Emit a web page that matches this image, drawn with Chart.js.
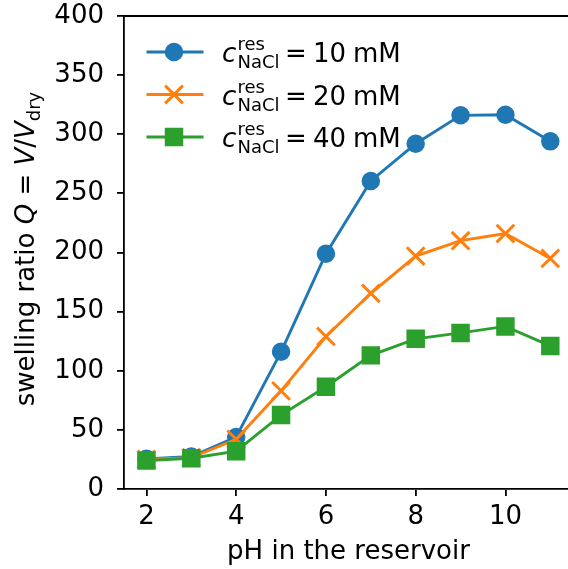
<!DOCTYPE html>
<html><head><meta charset="utf-8">
<script src="https://cdn.jsdelivr.net/npm/chart.js@4.4.0/dist/chart.umd.min.js"></script>
<style>
html,body{margin:0;padding:0;overflow:hidden;background:#fff;width:568px;height:569px}
#wrap{position:absolute;left:0;top:0;width:590px;height:569px}
</style>
</head><body><div id="wrap"><canvas id="c" width="590" height="569"></canvas></div>
<script>
// ---- data ----
const phValues = [2, 3, 4, 5, 6, 7, 8, 9, 10, 11];
const q10mM = [25.5, 27.5, 44, 116, 199, 260.5, 292, 316, 316.5, 294];
const q20mM = [25, 26.5, 42, 83, 129, 165.5, 197, 210, 216, 195];
const q40mM = [24, 26, 32, 62.5, 86.5, 113, 127, 132, 137.5, 121];
const concentrations = ['10', '20', '40'];
const xTicks = [2, 4, 6, 8, 10];
const yTicks = [0, 50, 100, 150, 200, 250, 300, 350, 400];

const FONT = "'DejaVu Sans', 'Noto Sans', sans-serif";
const colors = ['#1f77b4', '#ff7f0e', '#2ca02c'];
const styles = [
  {pointStyle: 'circle', radius: 8.5, borderWidth: 1.5},
  {pointStyle: 'crossRot', radius: 12.5, borderWidth: 3},
  {pointStyle: 'rect', radius: 12, borderWidth: 1.5}
];
const seriesValues = [q10mM, q20mM, q40mM];
const LW = 2.9;

const datasets = seriesValues.map((vals, i) => ({
  label: concentrations[i] + ' mM',
  data: phValues.map((x, k) => ({x: x, y: vals[k]})),
  showLine: true,
  borderColor: colors[i],
  backgroundColor: colors[i],
  borderWidth: LW,
  pointStyle: styles[i].pointStyle,
  pointRadius: styles[i].radius,
  pointBorderWidth: styles[i].borderWidth,
  pointBackgroundColor: colors[i],
  pointBorderColor: colors[i],
  order: 3 - i,
  tension: 0
}));

function drawRich(ctx, parts, x, y) {
  let cx = x;
  for (const p of parts) {
    ctx.font = p.font;
    ctx.fillText(p.t, cx, y + (p.dy || 0));
    cx += ctx.measureText(p.t).width + (p.gap || 0);
  }
  return cx;
}
function richWidth(ctx, parts) {
  let w = 0;
  for (const p of parts) { ctx.font = p.font; w += ctx.measureText(p.t).width + (p.gap || 0); }
  return w;
}

function drawMarker(ctx, st, color, x, y) {
  ctx.save();
  ctx.fillStyle = color; ctx.strokeStyle = color; ctx.lineWidth = st.borderWidth;
  if (Chart.helpers && Chart.helpers.drawPoint) {
    Chart.helpers.drawPoint(ctx, {pointStyle: st.pointStyle, radius: st.radius, borderWidth: st.borderWidth, rotation: 0}, x, y);
  }
  ctx.restore();
}

const decor = {
  id: 'decor',
  afterDraw(chart) {
    const ctx = chart.ctx;
    const a = chart.chartArea;
    ctx.save();
    // top spine & right spine
    ctx.strokeStyle = '#000'; ctx.lineWidth = 1.8;
    ctx.beginPath();
    ctx.moveTo(a.left - 0.9, a.top); ctx.lineTo(a.right, a.top);
    ctx.lineTo(a.right, a.bottom);
    ctx.stroke();

    ctx.fillStyle = '#000';
    ctx.textBaseline = 'alphabetic';
    ctx.textAlign = 'left';
    // x label
    ctx.font = '26px ' + FONT;
    const xl = 'pH in the reservoir';
    const xw = ctx.measureText(xl).width;
    ctx.fillText(xl, 348.5 - xw / 2, 559);

    // y label
    const yparts = [
      {t: 'swelling ratio ', font: '26px ' + FONT},
      {t: 'Q', font: 'italic 26px ' + FONT},
      {t: ' = ', font: '26px ' + FONT},
      {t: 'V', font: 'italic 26px ' + FONT},
      {t: '/', font: '26px ' + FONT},
      {t: 'V', font: 'italic 26px ' + FONT},
      {t: 'dry', font: '18px ' + FONT, dy: 6}
    ];
    ctx.save();
    ctx.translate(34, 249);
    ctx.rotate(-Math.PI / 2);
    const yw = richWidth(ctx, yparts);
    drawRich(ctx, yparts, -yw / 2, 0);
    ctx.restore();

    // legend
    for (let i = 0; i < 3; i++) {
      const my = 52 + i * 42.5;
      ctx.strokeStyle = colors[i]; ctx.lineWidth = LW;
      ctx.beginPath(); ctx.moveTo(146.5, my); ctx.lineTo(203.5, my); ctx.stroke();
      drawMarker(ctx, styles[i], colors[i], 174, my);
      ctx.fillStyle = '#000';
      const b = my + 10;
      ctx.font = 'italic 26px ' + FONT;
      ctx.fillText('c', 222, b);
      ctx.font = '18px ' + FONT;
      ctx.fillText('res', 237.5, b - 12);
      ctx.fillText('NaCl', 237.5, b + 6);
      ctx.font = '26px ' + FONT;
      ctx.fillText('=', 285, b);
      ctx.fillText(concentrations[i], 313, b);
      ctx.fillText('mM', 353, b);
    }
    ctx.restore();
  }
};

new Chart(document.getElementById('c'), {
  type: 'scatter',
  data: {datasets: datasets},
  options: {
    responsive: false,
    animation: false,
    devicePixelRatio: 1,
    layout: {padding: {top: 16, right: 17.25, left: 0, bottom: 0}},
    plugins: {legend: {display: false}, tooltip: {enabled: false}},
    scales: {
      x: {
        type: 'linear', min: 1.5, max: 11.5,
        afterBuildTicks: s => { s.ticks = xTicks.map(v => ({value: v})); },
        afterFit: s => { s.height = 80; s.paddingLeft = 0; s.paddingRight = 0; },
        grid: {display: true, drawOnChartArea: false, drawTicks: true, tickLength: 7, color: '#000', lineWidth: 1.8},
        border: {display: true, color: '#000', width: 1.8},
        ticks: {font: {family: FONT, size: 26}, color: '#000', padding: 6, maxRotation: 0, autoSkip: false}
      },
      y: {
        type: 'linear', min: 0, max: 400,
        afterBuildTicks: s => { s.ticks = yTicks.map(v => ({value: v})); },
        afterFit: s => { s.width = 124; s.paddingTop = 0; s.paddingBottom = 0; },
        grid: {display: true, drawOnChartArea: false, drawTicks: true, tickLength: 7, color: '#000', lineWidth: 1.8},
        border: {display: true, color: '#000', width: 1.8},
        ticks: {font: {family: FONT, size: 26}, color: '#000', padding: 13, autoSkip: false}
      }
    }
  },
  plugins: [decor]
});
</script>
</body></html>
